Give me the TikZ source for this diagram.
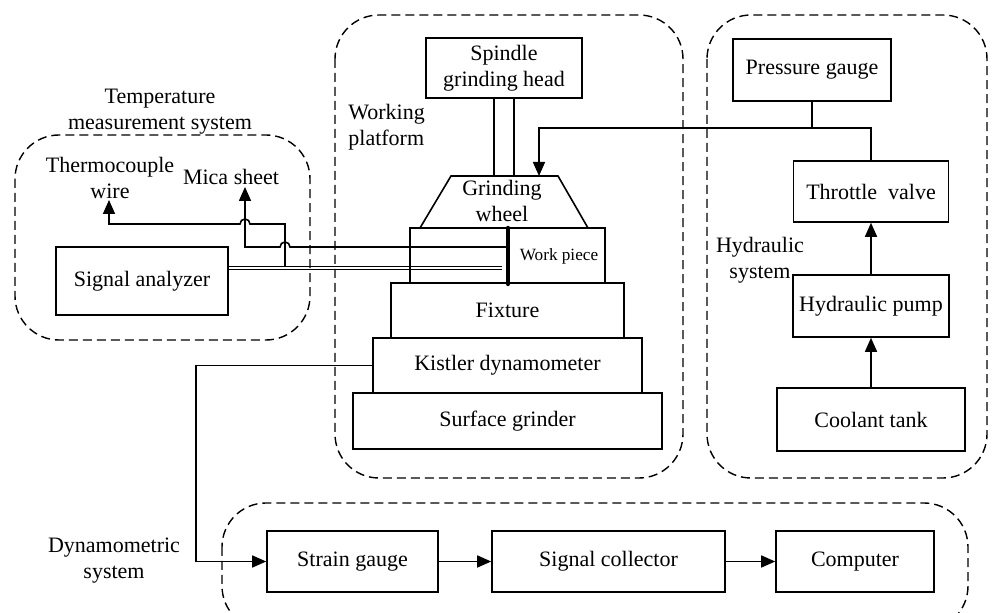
\documentclass[tikz,border=0pt]{standalone}
\usepackage{fontspec}
\setmainfont{Liberation Serif}
\usetikzlibrary{arrows.meta}
\begin{document}
\begin{tikzpicture}[x=0.5pt,y=-0.5pt,
  box/.style={draw, line width=0.8pt, inner sep=0pt, align=center, font=\fontsize{11}{13}\selectfont},
  lbl/.style={inner sep=0pt, align=center, font=\fontsize{11}{13}\selectfont},
  wire/.style={line width=0.8pt},
  arr/.style={wire, -{Triangle[length=7pt,width=6pt]}},
  sysbox/.style={line width=0.7pt, dash pattern=on 4.5pt off 2.5pt, rounded corners=22pt}]
\useasboundingbox (0,0) rectangle (992,613);
\clip (0,0) rectangle (992,613);

% system groups
\draw[sysbox] (15,135) rectangle (310,340);
\draw[sysbox] (335,15) rectangle (683,478);
\draw[sysbox] (707,15) rectangle (987,478);
\draw[sysbox] (222,503) rectangle (968,630);

% boxes
\node[box, minimum width=86pt, minimum height=34pt] (analyzer) at (142,281) {Signal analyzer};
\node[box, minimum width=78pt, minimum height=30pt] (spindle) at (504,68) {Spindle\\grinding head};
\node[box, minimum width=97.5pt, minimum height=27.5pt] (work) at (507.5,255.5) {};
\node[lbl, font=\fontsize{8.6}{10}\selectfont] (worktext) at (559,256) {Work piece};
\node[box, minimum width=116.5pt, minimum height=27.5pt] (fixture) at (507.5,310.5) {Fixture};
\node[box, minimum width=134.5pt, minimum height=27.5pt] (kistler) at (507.5,365.5) {Kistler dynamometer};
\node[box, minimum width=154.5pt, minimum height=28pt] (grinder) at (507.5,421) {Surface grinder};
\node[box, minimum width=79pt, minimum height=31pt] (pressure) at (812,70) {Pressure gauge};
\node[box, minimum width=77.5pt, minimum height=30.5pt] (throttle) at (871,191.5) {Throttle\ \ valve};
\node[box, minimum width=78pt, minimum height=31pt] (pump) at (871,306) {Hydraulic pump};
\node[box, minimum width=94pt, minimum height=31.5pt] (coolant) at (871,419.5) {Coolant tank};
\node[box, minimum width=85.5pt, minimum height=30.5pt] (strain) at (352.5,561.5) {Strain gauge};
\node[box, minimum width=116.5pt, minimum height=30.5pt] (collector) at (608.5,561.5) {Signal collector};
\node[box, minimum width=79pt, minimum height=30.5pt] (computer) at (855,561.5) {Computer};

% grinding wheel
\coordinate (wA) at (451,176);
\coordinate (wB) at (558,176);
\coordinate (wC) at (588,228);
\coordinate (wD) at (420,228);
\draw[wire] (wD) -- (wA) -- (wB) -- (wC);
\node[lbl] (wheel) at (502,201) {Grinding\\wheel};

% spindle shafts
\draw[wire] ([xshift=-5pt]spindle.south) -- ([xshift=-5pt]spindle.south |- wA);
\draw[wire] ([xshift=5pt]spindle.south) -- ([xshift=5pt]spindle.south |- wA);

% labels
\node[lbl, anchor=west, align=left] (wp) at (348,127.5) {Working\\platform};
\node[lbl] (hs) at (760,260) {Hydraulic\\system};
\node[lbl] (ts) at (160,112) {Temperature\\measurement system};
\node[lbl] (tcw) at (110,177.5) {Thermocouple\\wire};
\node[lbl] (mica) at (231,177) {Mica sheet};
\node[lbl] (ds) at (114,561) {Dynamometric\\system};

% temperature wiring
\coordinate (dA) at (502,266.5);
\coordinate (dB) at (502,269.5);
\coordinate (tcj) at (285,266.5);
\coordinate (tctip) at (109,200);
\coordinate (mj) at (506,247);
\coordinate (micatip) at (245,187);
\coordinate (probetop) at (508,228);
\coordinate (probebot) at (508,284);
\draw[line width=0.6pt] (analyzer.east |- dA) -- (dA);
\draw[line width=0.6pt] (analyzer.east |- dB) -- (dB);
\draw[arr] (tcj) -- (285,224) -- (250,224) arc[start angle=0,end angle=180,radius=2.5pt] -- (109,224) -- (tctip);
\draw[arr] (mj) -- (290,247) arc[start angle=0,end angle=180,radius=2.5pt] -- (245,247) -- (micatip);
\draw[line width=2.2pt, line cap=round] (probetop) -- (probebot);

% hydraulic
\coordinate (hline) at (871,128);
\coordinate (wheelin) at (539,176);
\draw[arr] (coolant.north) -- (pump.south);
\draw[arr] (pump.north) -- (throttle.south);
\draw[wire] (pressure.south) -- (pressure.south |- hline);
\draw[arr] (throttle.north) -- (hline) -| (wheelin);

% dynamometric
\draw[arr] (kistler.west) -- ++(-176,0) |- (strain.west);
\draw[arr] (strain.east) -- (collector.west);
\draw[arr] (collector.east) -- (computer.west);
\end{tikzpicture}
\end{document}
